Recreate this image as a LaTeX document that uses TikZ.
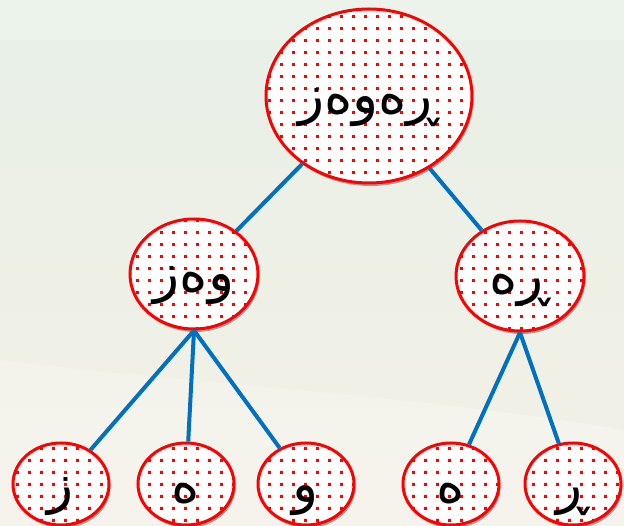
\documentclass[tikz,border=0pt]{standalone}
\usepackage{fontspec}
\newfontfamily\arabicfont[Script=Arabic]{DejaVu Sans}
\TeXXeTstate=1
\usetikzlibrary{shapes.geometric,shadows,patterns.meta}
\definecolor{linkblue}{RGB}{0,112,192}
\definecolor{bgtop}{RGB}{232,240,231}
\definecolor{bgbottom}{RGB}{243,240,230}
\tikzdeclarepattern{
  name=sparsedots,
  type=uncolored,
  tile size={(12pt,12pt)},
  bounding box={(0,0) and (12pt,12pt)},
  code={\fill (4.5pt,4.5pt) rectangle (7.5pt,7.5pt);}
}
\tikzset{
  treenode/.style={ellipse, draw=red, line width=3pt, fill=white, inner sep=0pt,
                   postaction={pattern=sparsedots, pattern color=red},
                   drop shadow={shadow xshift=1.5pt, shadow yshift=-3pt, fill=black!45, opacity=0.8},
                   font=\arabicfont\fontsize{54}{58}\selectfont,
                   text height=40pt, text depth=4pt},
  bignode/.style={treenode, minimum width=206pt, minimum height=174pt},
  midnode/.style={treenode, minimum width=128pt, minimum height=110pt},
  leafnode/.style={treenode, minimum width=96pt, minimum height=82pt},
  link/.style={draw=linkblue, line width=4pt},
}
\newcommand{\rtl}[1]{\beginR #1\endR}
\begin{document}
\begin{tikzpicture}[x=1pt, y=-1pt]
  % background
  \shade[top color=bgtop, bottom color=bgbottom] (0,0) rectangle (624,526);
  \fill[white, opacity=0.2] (0,0) rectangle (624,40);
  \fill[white, opacity=0.25] (0,360) .. controls (200,385) and (420,395) .. (624,430) -- (624,526) -- (0,526) -- cycle;
  \useasboundingbox (0,0) rectangle (624,526);

  \node[bignode] (root) at (369,96) {\rtl{ڕەوەز}};
  \node[midnode] (midleft) at (194,274) {\rtl{وەز}};
  \node[midnode] (midright) at (520,276) {\rtl{ڕە}};
  \node[leafnode] (leaf1) at (61,484) {\rtl{ز}};
  \node[leafnode] (leaf2) at (186,484) {\rtl{ە}};
  \node[leafnode] (leaf3) at (306,484) {\rtl{و}};
  \node[leafnode] (leaf4) at (451,484) {\rtl{ە}};
  \node[leafnode] (leaf5) at (573,484) {\rtl{ڕ}};

  \draw[link] (root) -- (midleft);
  \draw[link] (root) -- (midright);
  \draw[link] (midleft.south) -- (leaf1);
  \draw[link] (midleft.south) -- (leaf2);
  \draw[link] (midleft.south) -- (leaf3);
  \draw[link] (midright.south) -- (leaf4);
  \draw[link] (midright.south) -- (leaf5);
\end{tikzpicture}
\end{document}
